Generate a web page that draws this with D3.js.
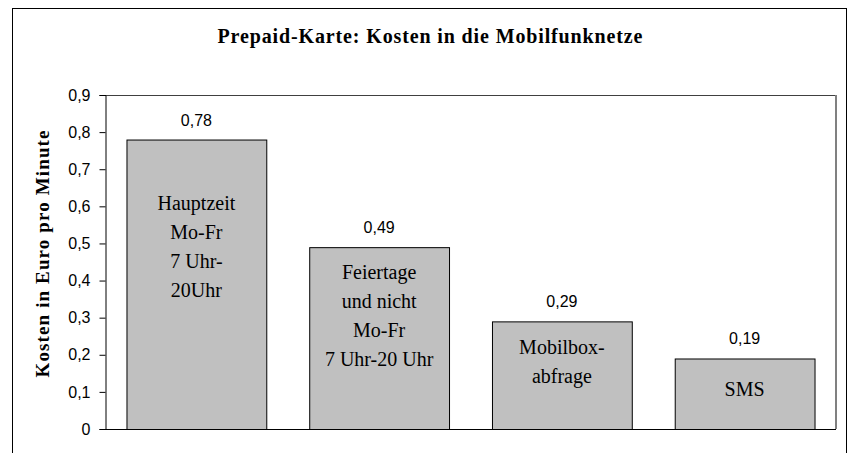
<!DOCTYPE html>
<html>
<head>
<meta charset="utf-8">
<script src="https://cdn.jsdelivr.net/npm/d3@7"></script>
<style>
  body { margin: 0; background: #fff; }
  svg { display: block; }
</style>
</head>
<body>
<div id="chart"></div>
<script>
// data
const categories = ["Hauptzeit", "Feiertage", "Mobilbox", "SMS"];
const values = [0.78, 0.49, 0.29, 0.19];
const barLabels = [
  ["Hauptzeit", "Mo-Fr", "7 Uhr-", "20Uhr"],
  ["Feiertage", "und nicht", "Mo-Fr", "7 Uhr-20 Uhr"],
  ["Mobilbox-", "abfrage"],
  ["SMS"]
];
const yTicks = [0, 0.1, 0.2, 0.3, 0.4, 0.5, 0.6, 0.7, 0.8, 0.9];
const title = "Prepaid-Karte: Kosten in die Mobilfunknetze";
const yTitle = "Kosten in Euro pro Minute";

// where the first text line sits below each bar top (px)
const labelOffset = [63, 25, 26, 31];

const W = 853, H = 453;
const plot = { left: 105, right: 836, top: 95, bottom: 429 };
const serif = "'Liberation Serif', 'Times New Roman', serif";
const sans = "'Liberation Sans', Arial, sans-serif";

const comma = d => d === 0 ? "0" : d.toFixed(2).replace(/0$/, "").replace(".", ",");

const svg = d3.select("#chart").append("svg")
  .attr("width", W)
  .attr("height", H);

// outer chart border
svg.append("rect")
  .attr("x", 12.5).attr("y", 8.5)
  .attr("width", 834).attr("height", 460)
  .attr("fill", "#fff")
  .attr("stroke", "#000");

const x = d3.scaleBand()
  .domain(categories)
  .range([plot.left, plot.right])
  .paddingInner(0.235)
  .paddingOuter(0.1175);

const y = d3.scaleLinear()
  .domain([0, 0.9])
  .range([plot.bottom, plot.top]);

// plot area frame (top and right)
svg.append("line")
  .attr("x1", plot.left).attr("x2", plot.right)
  .attr("y1", plot.top + 0.5).attr("y2", plot.top + 0.5)
  .attr("stroke", "#404040");
svg.append("line")
  .attr("x1", plot.right).attr("x2", plot.right)
  .attr("y1", plot.top).attr("y2", plot.bottom)
  .attr("stroke", "#808080")
  .attr("stroke-width", 2);

// title
svg.append("text")
  .attr("x", 430).attr("y", 43)
  .attr("text-anchor", "middle")
  .attr("textLength", 425)
  .attr("lengthAdjust", "spacing")
  .style("font-family", serif)
  .style("font-weight", "bold")
  .style("font-size", "20px")
  .text(title);

// y axis
const yAxis = svg.append("g")
  .attr("transform", `translate(${plot.left + 0.5},0)`)
  .call(d3.axisLeft(y).tickValues(yTicks).tickFormat(comma).tickSize(6).tickPadding(9));
yAxis.select(".domain").attr("stroke", "#000");
yAxis.selectAll(".tick line").attr("stroke", "#000");
yAxis.selectAll(".tick text")
  .style("font-family", sans)
  .style("font-size", "16px")
  .attr("fill", "#000");

// y axis title
svg.append("text")
  .attr("transform", `translate(49,${(plot.top + plot.bottom) / 2 - 8}) rotate(-90)`)
  .attr("text-anchor", "middle")
  .attr("textLength", 247)
  .attr("lengthAdjust", "spacing")
  .style("font-family", serif)
  .style("font-weight", "bold")
  .style("font-size", "19px")
  .text(yTitle);

// bars
svg.selectAll("rect.bar")
  .data(values)
  .enter().append("rect")
  .attr("class", "bar")
  .attr("x", (d, i) => x(categories[i]) + 0.5)
  .attr("y", d => y(d) + 0.5)
  .attr("width", x.bandwidth())
  .attr("height", d => y(0) - y(d))
  .attr("fill", "#c0c0c0")
  .attr("stroke", "#000");

// x axis baseline
svg.append("line")
  .attr("x1", plot.left).attr("x2", plot.right)
  .attr("y1", plot.bottom + 0.5).attr("y2", plot.bottom + 0.5)
  .attr("stroke", "#000");

// value labels
svg.selectAll("text.value")
  .data(values)
  .enter().append("text")
  .attr("class", "value")
  .attr("x", (d, i) => x(categories[i]) + x.bandwidth() / 2)
  .attr("y", d => y(d) - 14)
  .attr("text-anchor", "middle")
  .style("font-family", sans)
  .style("font-size", "16px")
  .text(d => comma(d));

// text inside bars
barLabels.forEach((lines, i) => {
  const cx = x(categories[i]) + x.bandwidth() / 2;
  const top = y(values[i]) + labelOffset[i];
  svg.append("g").selectAll("text")
    .data(lines)
    .enter().append("text")
    .attr("x", cx)
    .attr("y", (d, j) => top + j * 29)
    .attr("dy", "0.35em")
    .attr("text-anchor", "middle")
    .style("font-family", serif)
    .style("font-size", "20px")
    .text(d => d);
});
</script>
</body>
</html>
